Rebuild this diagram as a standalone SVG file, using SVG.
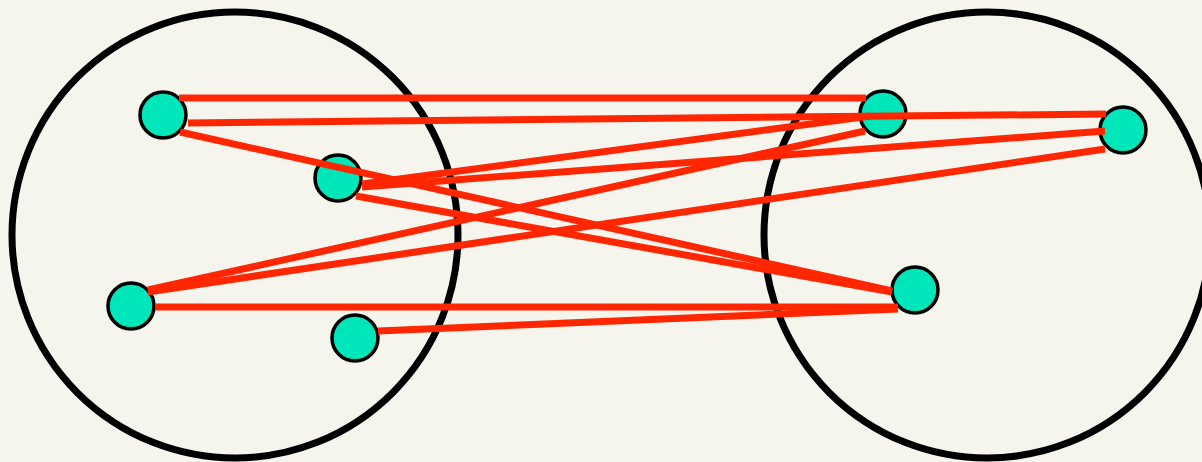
<svg xmlns="http://www.w3.org/2000/svg" width="1202" height="462" viewBox="0 0 1202 462">
<style>
.set{fill:none;stroke:#000;stroke-width:7}
.node{fill:#00e6bb;stroke:#000;stroke-width:3.5}
.edge{stroke:#ff2600;stroke-width:7;stroke-linecap:butt;fill:none}
</style>
<rect width="1202" height="462" fill="#f5f5ee"/>
<g id="set-left"><circle class="set" cx="235" cy="235" r="223"/></g>
<g id="set-right"><circle class="set" cx="987" cy="235" r="223"/></g>
<g id="node-a"><circle class="node" cx="163" cy="115" r="23"/></g>
<g id="node-b"><circle class="node" cx="338" cy="178" r="23"/></g>
<g id="node-c"><circle class="node" cx="131" cy="306" r="23"/></g>
<g id="node-d"><circle class="node" cx="355" cy="338" r="23"/></g>
<g id="node-e"><circle class="node" cx="883" cy="114" r="23"/></g>
<g id="node-f"><circle class="node" cx="1123" cy="130" r="23"/></g>
<g id="node-g"><circle class="node" cx="915" cy="290" r="23"/></g>
<g id="connectors" class="edge">
<line x1="179" y1="98" x2="866" y2="98"/>
<line x1="188" y1="123" x2="1106" y2="114"/>
<line x1="180" y1="132" x2="892" y2="291"/>
<line x1="362" y1="184" x2="870" y2="116"/>
<line x1="362" y1="187" x2="1105" y2="131"/>
<line x1="356" y1="196" x2="892" y2="292"/>
<line x1="148" y1="290" x2="865" y2="131"/>
<line x1="148" y1="292" x2="1105" y2="149"/>
<line x1="155" y1="307" x2="898" y2="307"/>
<line x1="378" y1="331" x2="898" y2="309"/>
</g>
</svg>
